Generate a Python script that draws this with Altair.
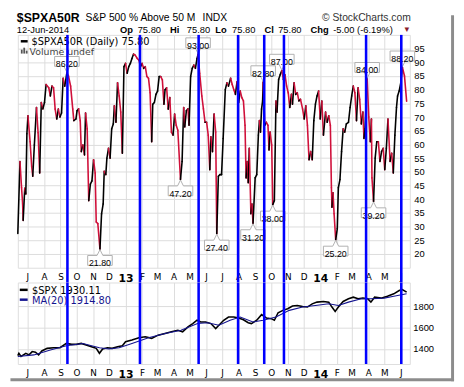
import altair as alt
import numpy as np
import pandas as pd

START = "2012-06-13"

# $SPXA50R daily closes (days after START)
spxa_days = [0, 4, 7, 9, 10, 13, 15, 17, 19, 23, 26, 28, 31, 35, 38, 41, 44, 47, 50, 53,
             58, 61, 64, 67, 70, 73, 76, 79, 82, 85, 88, 92, 95, 99, 103, 105, 109, 111, 114, 117,
             119, 122, 125, 127, 130, 133, 136, 139, 142, 145, 147, 150, 154, 157, 160, 162, 165, 167, 170, 173,
             176, 179, 181, 184, 187, 190, 193, 196, 199, 202, 205, 208, 211, 214, 217, 220, 224, 227, 230, 233,
             236, 239, 242, 245, 248, 251, 253, 256, 259, 262, 265, 268, 271, 274, 276, 279, 282, 285, 288, 291,
             294, 297, 300, 305, 308, 311, 313, 316, 319, 321, 324, 327, 330, 333, 336, 338, 341, 345, 348, 351,
             354, 357, 360, 362, 365, 368, 371, 373, 376, 379, 382, 385, 389, 392, 395, 399, 402, 405, 408, 411,
             414, 417, 420, 423, 426, 428, 430, 432, 434, 437, 439, 441, 445, 448, 451, 453, 455, 457, 459, 460,
             463, 466, 469, 471, 473, 476, 478, 481, 484, 486, 489, 492, 495, 498, 501, 504, 507, 510, 513, 515,
             518, 521, 524, 527, 530, 534, 537, 540, 543, 546, 549, 552, 555, 558, 561, 564, 567, 570, 573, 577,
             580, 583, 586, 588, 589, 591, 593, 596, 599, 601, 604, 607, 610, 613, 616, 620, 623, 626, 629, 632,
             635, 638, 641, 644, 647, 649, 651, 655, 658, 661, 663, 664, 667, 670, 673, 676, 679, 682, 685, 688,
             691, 694, 698, 701, 704, 707, 710, 712, 715, 718, 721, 725, 729]
spxa_values = [27.5, 53.8, 44.2, 38.3, 32.3, 44.0, 41.9, 63.9, 70.5, 61.0, 52.0, 48.4, 59.8, 73.5, 64.3, 49.6, 75.3, 73.0, 75.3, 81.9,
               80.7, 77.7, 81.3, 80.7, 72.9, 69.3, 72.9, 70.0, 71.5, 84.2, 81.3, 86.2, 85.0, 81.3, 72.9, 68.7, 69.3, 72.3, 73.0, 68.7,
               57.4, 59.8, 56.2, 71.5, 65.7, 39.5, 45.5, 46.7, 54.4, 49.6, 31.7, 31.1, 21.8, 34.7, 38.3, 50.2, 49.0, 55.0, 58.6, 55.0,
               65.7, 67.5, 74.1, 68.1, 82.5, 77.7, 71.8, 56.8, 88.4, 89.6, 86.0, 88.4, 89.6, 91.4, 93.0, 92.6, 91.4, 90.8, 88.4, 89.6,
               87.8, 88.4, 84.8, 84.2, 78.9, 61.0, 74.7, 75.3, 78.3, 79.5, 84.8, 84.8, 83.6, 74.7, 80.0, 80.7, 72.9, 77.1, 64.5, 63.4,
               71.1, 67.0, 65.2, 47.2, 53.8, 73.5, 66.4, 72.3, 73.0, 67.0, 84.8, 87.8, 89.0, 87.8, 91.4, 93.0, 86.0, 77.7, 73.0, 68.1,
               68.1, 63.4, 50.8, 62.8, 57.4, 71.1, 64.5, 27.4, 48.4, 49.0, 49.0, 62.2, 80.0, 82.5, 81.3, 84.2, 81.9, 80.0, 78.3, 82.9,
               75.3, 79.5, 77.1, 75.9, 67.0, 47.8, 53.8, 46.0, 58.6, 34.7, 38.3, 31.2, 47.8, 49.0, 63.4, 68.7, 64.5, 72.9, 75.9, 82.8,
               67.0, 68.1, 67.0, 58.0, 64.5, 59.8, 38.0, 39.5, 75.9, 71.8, 83.7, 85.5, 87.0, 83.7, 85.4, 81.3, 78.9, 73.5, 78.3, 74.7,
               82.5, 78.3, 78.9, 75.9, 76.5, 72.9, 69.3, 74.1, 67.0, 54.4, 57.4, 54.4, 68.7, 74.7, 77.7, 79.5, 69.3, 75.9, 63.4, 71.8,
               68.1, 70.5, 67.0, 44.2, 37.1, 42.4, 34.7, 25.2, 29.3, 44.2, 47.2, 57.4, 65.7, 64.5, 67.5, 68.1, 73.5, 77.7, 81.3, 78.9,
               68.7, 80.7, 76.5, 67.5, 71.8, 62.2, 65.7, 84.0, 70.0, 61.0, 69.3, 47.8, 39.2, 55.0, 61.0, 61.0, 53.8, 57.4, 58.6, 50.8,
               58.6, 69.3, 53.8, 56.8, 49.6, 63.4, 73.5, 77.7, 79.5, 82.5, 88.2, 85.0, 75.8]

# $SPX and its 20-day moving average (lower panel)
spx_days = [0, 2, 6, 15, 21, 27, 33, 39, 45, 55, 67, 79, 91, 101, 110, 119, 128, 138, 147, 153,
            159, 168, 177, 187, 196, 202, 214, 227, 239, 251, 263, 276, 288, 300, 309, 319, 328, 336, 343, 352,
            362, 371, 377, 386, 395, 405, 414, 423, 432, 438, 448, 457, 466, 475, 481, 488, 497, 506, 515, 524,
            534, 543, 552, 561, 573, 583, 589, 595, 601, 610, 620, 629, 638, 647, 656, 662, 669, 681, 693, 705,
            715, 721, 729]
spx_values = [1339, 1360, 1330, 1360, 1345, 1376, 1370, 1345, 1382, 1406, 1412, 1412, 1452, 1443, 1443, 1452, 1437, 1422, 1406, 1360,
              1400, 1412, 1406, 1422, 1430, 1468, 1483, 1505, 1514, 1499, 1529, 1545, 1560, 1575, 1560, 1606, 1637, 1668, 1652, 1652,
              1637, 1591, 1622, 1668, 1698, 1698, 1689, 1673, 1645, 1637, 1668, 1720, 1689, 1683, 1668, 1738, 1760, 1775, 1800, 1806,
              1797, 1791, 1821, 1837, 1843, 1837, 1791, 1751, 1791, 1843, 1868, 1883, 1868, 1874, 1868, 1837, 1883, 1874, 1892, 1914,
              1945, 1954, 1930]
ma_days = [0, 30, 61, 91, 122, 153, 171, 190, 214, 245, 276, 306, 337, 356, 377, 398, 417, 441, 460, 484,
           509, 534, 558, 583, 601, 620, 644, 662, 687, 705, 729]
ma_values = [1330, 1345, 1391, 1430, 1452, 1412, 1400, 1412, 1452, 1505, 1545, 1575, 1637, 1645, 1622, 1668, 1698, 1652, 1668, 1698,
             1760, 1791, 1806, 1821, 1806, 1837, 1868, 1868, 1874, 1892, 1915]

# marked turning points
peak_days = [92, 338, 460, 495, 655, 721]
peak_values = [86.20, 93.00, 82.80, 87.00, 84.00, 88.20]
trough_days = [154, 305, 373, 441, 478, 596, 667]
trough_values = [21.80, 47.20, 27.40, 31.20, 38.00, 25.20, 39.20]

# blue vertical markers
event_dates = ["2012-09-14", "2013-01-28", "2013-05-18", "2013-07-31",
               "2013-09-18", "2013-10-25", "2014-03-28", "2014-06-02"]

spxa_ticks = [20, 25, 30, 35, 40, 45, 50, 55, 60, 65, 70, 75, 80, 85, 90, 95]
spx_ticks = [1400, 1600, 1800]

# ---------------------------------------------------------------- tables
start = pd.Timestamp(START)


def to_dates(days):
    return start + pd.to_timedelta(days, unit="D")


seg = pd.DataFrame({"date": to_dates(spxa_days), "value": spxa_values})
seg["date2"] = seg["date"].shift(-1)
seg["value2"] = seg["value"].shift(-1)
seg = seg.dropna().copy()
seg["dir"] = np.where(seg["value2"] >= seg["value"], "up", "down")

spx_df = pd.DataFrame({"date": to_dates(spx_days), "spx": spx_values})
ma_df = pd.DataFrame({"date": to_dates(ma_days), "spx": ma_values})
peaks = pd.DataFrame({"date": to_dates(peak_days), "value": peak_values})
troughs = pd.DataFrame({"date": to_dates(trough_days), "value": trough_values})
events = pd.DataFrame({"date": pd.to_datetime(event_dates)})

# ---------------------------------------------------------------- layout
W = 399
H_TOP = 237
H_BOT = 83
GAP = 15
GRID = "#dcdcdc"
RED = "#d0103a"
BLUE = "#0000ff"
NAVY = "#14148f"
SANS = "Liberation Sans"
WIDE = "DejaVu Sans"

x_scale = alt.Scale(domain=[alt.DateTime(year=2012, month=6, date=13),
                            alt.DateTime(year=2014, month=6, date=18)])
is_year = "month(datum.value) == 0"
x_axis = alt.Axis(
    title=None,
    tickCount=alt.TimeIntervalStep(interval="month", step=1),
    labelExpr=f"{is_year} ? timeFormat(datum.value, '%y') : slice(timeFormat(datum.value, '%b'), 0, 1)",
    grid=True, gridColor=GRID, ticks=False, domain=False,
    labelPadding=4.5, labelFont=WIDE,
    labelFontSize={"condition": {"test": is_year, "value": 11}, "value": 9},
    labelFontWeight={"condition": {"test": is_year, "value": "bold"}, "value": "normal"},
    labelColor="#000", labelOverlap=False, labelFlush=False, labelBound=False,
)
x_enc = alt.X("date:T", scale=x_scale, axis=x_axis)

y_top = alt.Y("value:Q",
              scale=alt.Scale(domain=[15, 100], nice=False, zero=False),
              axis=alt.Axis(orient="right", values=spxa_ticks, title=None, grid=True,
                            gridColor=GRID, ticks=False, domain=False, labelPadding=4,
                            labelFont=SANS, labelFontSize=9.5, labelColor="#000", format="d"))
y_bot = alt.Y("spx:Q",
              scale=alt.Scale(domain=[1260, 2020], nice=False, zero=False),
              axis=alt.Axis(orient="right", values=spx_ticks, title=None, grid=True,
                            gridColor=GRID, ticks=False, domain=False, labelPadding=3,
                            labelFont=SANS, labelFontSize=9.5, labelColor="#000", format="d"))

ONE = alt.Data(values=[{"k": 1}])


def pix_text(text, x, y, size=11, weight="normal", color="#000", font=SANS, align="left"):
    return alt.Chart(ONE).mark_text(
        text=text, fontSize=size, fontWeight=weight, color=color, font=font,
        align=align, baseline="alphabetic"
    ).encode(x=alt.value(x), y=alt.value(y))


def pix_rule(x1, y1, x2, y2, color, width):
    return alt.Chart(ONE).mark_rule(color=color, strokeWidth=width).encode(
        x=alt.value(x1), x2=alt.value(x2), y=alt.value(y1), y2=alt.value(y2))


# ---------------------------------------------------------------- top panel
line = alt.Chart(seg).mark_rule(strokeWidth=1.6, strokeCap="round").encode(
    x=x_enc, x2="date2:T", y=y_top, y2="value2:Q",
    color=alt.Color("dir:N", scale=alt.Scale(domain=["up", "down"], range=["#000000", RED]),
                    legend=None),
)

PEAK_SHAPE = "M-1,-0.4L1,-0.4L1,0.4L0.24,0.4L0,0.88L-0.24,0.4L-1,0.4Z"
TROUGH_SHAPE = "M-1,0.4L1,0.4L1,-0.4L0.24,-0.4L0,-0.88L-0.24,-0.4L-1,-0.4Z"
box_style = dict(filled=True, fill="white", stroke="#b0b0b0", strokeWidth=1,
                 size=625, opacity=1, fillOpacity=1, strokeOpacity=1)

peak_box = alt.Chart(peaks).mark_point(shape=PEAK_SHAPE, yOffset=-11.5, **box_style).encode(
    x=x_enc, y=y_top)
peak_txt = alt.Chart(peaks).mark_text(dy=-8.5, font=SANS, fontSize=9, color="#000").encode(
    x=x_enc, y=y_top, text=alt.Text("value:Q", format=".2f"))
trough_box = alt.Chart(troughs).mark_point(shape=TROUGH_SHAPE, yOffset=11.5, **box_style).encode(
    x=x_enc, y=y_top)
trough_txt = alt.Chart(troughs).mark_text(dy=14.5, font=SANS, fontSize=9, color="#000").encode(
    x=x_enc, y=y_top, text=alt.Text("value:Q", format=".2f"))

blue_top = alt.Chart(events).mark_rule(color=BLUE, strokeWidth=2.6).encode(
    x=x_enc, y=alt.value(0), y2=alt.value(H_TOP + GAP))

L1 = -14
L2 = -2
header = [
    pix_text("$SPXA50R", -1, -13.5, size=12.5, weight="bold"),
    pix_text("S&P 500 % Above 50 M", 69, L1, size=10.5),
    pix_text("INDX", 188, L1, size=10.5),
    pix_text("\u00a9 StockCharts.com", 400, L1, size=10.5, color="#333", align="right"),
    pix_text("12-Jun-2014", -1, L2, size=9.5),
    pix_text("Op", 104, L2, size=9.5, weight="bold"),
    pix_text("75.80", 122, L2, size=9.5),
    pix_text("Hi", 155, L2, size=9.5, weight="bold"),
    pix_text("75.80", 172, L2, size=9.5),
    pix_text("Lo", 201, L2, size=9.5, weight="bold"),
    pix_text("75.80", 218, L2, size=9.5),
    pix_text("Cl", 251, L2, size=9.5, weight="bold"),
    pix_text("75.80", 265, L2, size=9.5),
    pix_text("Chg", 298, L2, size=9.5, weight="bold"),
    pix_text("-5.00 (-6.19%)", 321, L2, size=9.5),
    pix_text("\u25bc", 396, -2.5, size=8, color="#8b1a2b", align="center"),
]
legend_top = [
    pix_rule(3, 6.5, 10, 6.5, "#000", 2.5),
    pix_text("$SPXA50R (Daily) 75.80", 14, 10, size=10, font=WIDE),
    pix_rule(4, 19, 4, 15, "#555", 1.8),
    pix_rule(6.5, 19, 6.5, 13, "#555", 1.8),
    pix_rule(9, 19, 9, 16, "#555", 1.8),
    pix_text("Volume undef", 12, 20, size=9.5, font=WIDE, color="#444"),
]

top = alt.layer(line, peak_box, peak_txt, trough_box, trough_txt, *header, *legend_top,
                blue_top).properties(width=W, height=H_TOP)

# ---------------------------------------------------------------- bottom panel
spx_line = alt.Chart(spx_df).mark_line(color="#000", strokeWidth=1.6).encode(x=x_enc, y=y_bot)
ma_line = alt.Chart(ma_df).mark_line(color=NAVY, strokeWidth=1.1).encode(x=x_enc, y=y_bot)
blue_bot = alt.Chart(events).mark_rule(color=BLUE, strokeWidth=2.6).encode(
    x=x_enc, y=alt.value(0), y2=alt.value(H_BOT))
legend_bot = [
    pix_rule(2, 7.5, 10, 7.5, "#000", 2.5),
    pix_text("$SPX 1930.11", 14.5, 11.5, size=10, font=WIDE),
    pix_rule(2, 17.5, 10, 17.5, NAVY, 2.5),
    pix_text("MA(20) 1914.80", 14.5, 21.5, size=10, font=WIDE, color=NAVY),
]
frame = [
    pix_rule(442.5, -272, 442.5, 100.5, "#8c8c8c", 3),
    pix_rule(-7.5, 99, 444, 99, "#8c8c8c", 3),
]

bottom = alt.layer(spx_line, ma_line, *legend_bot, blue_bot, *frame).properties(width=W, height=H_BOT)

chart = (
    alt.vconcat(top, bottom, spacing=GAP, bounds="flush")
    .properties(padding={"left": 0, "top": 0, "right": 0, "bottom": 0}, background="white")
    .configure_view(stroke="#a0a0a0", strokeWidth=1)
    .configure(font=WIDE)
)

chart.save("out.html", embed_options={"renderer": "svg", "actions": False})
